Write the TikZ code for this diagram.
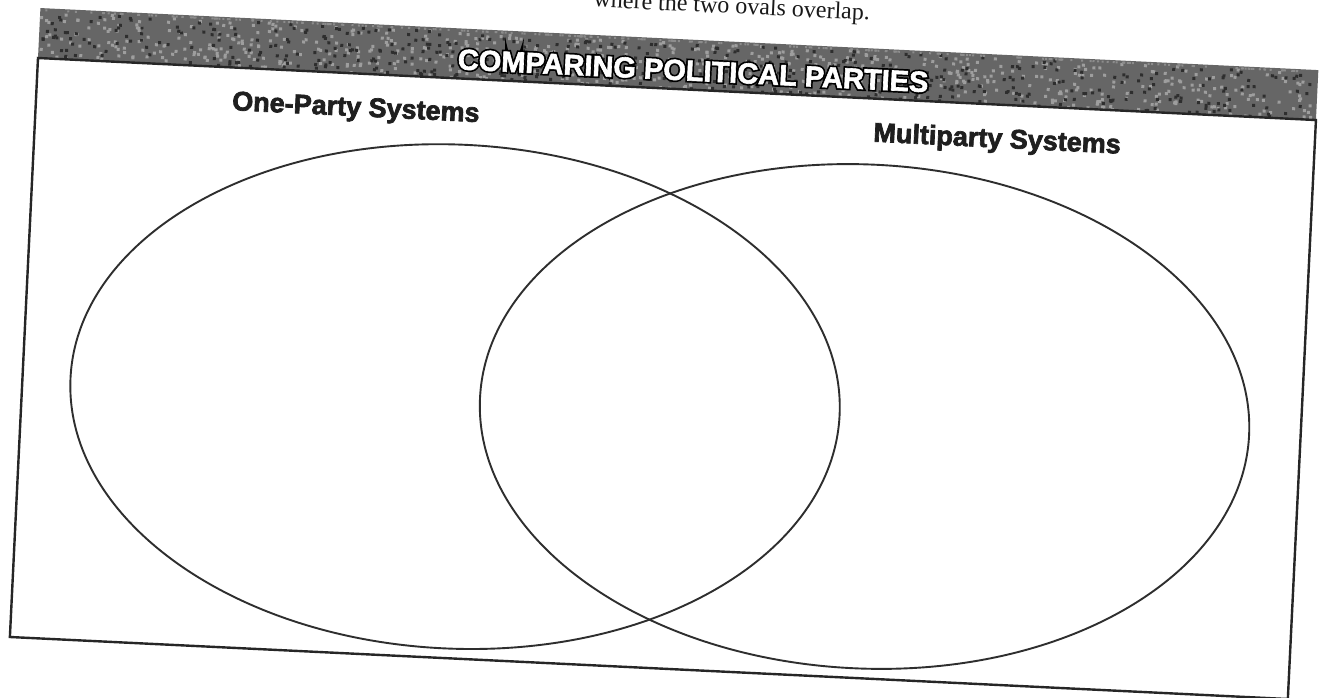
\documentclass[tikz,border=0pt]{standalone}
\usepackage{fontspec}
\setmainfont{Liberation Serif}
\newfontfamily\hsans{Liberation Sans}
% stroked text: #1 stroke width, #2 stroke grey level, #3 text
\newcommand\strokedtext[3]{\special{pdf:literal direct #1 w #2 G 2 Tr}#3\special{pdf:literal direct 0 Tr}}
\begin{document}
\begin{tikzpicture}[x=1pt,y=-1pt]
\tikzset{
  frameline/.style={draw=black!85, line width=2.4pt},
  oval/.style={draw=black!82, line width=1.9pt},
  band/.style={fill=black!60},
  speck/.style={fill=black!38},
  speckdark/.style={fill=black!82},
  titlefont/.style={font=\hsans\bfseries\fontsize{29}{29}\selectfont, inner sep=0, transform shape},
  subhead/.style={font=\hsans\bfseries\fontsize{27}{27}\selectfont, text=black!88, inner sep=0, transform shape},
  toptext/.style={font=\fontsize{24}{24}\selectfont, text=black!90, inner sep=0, transform shape},
}
\clip (0,0) rectangle (1323,698);
\fill[white] (0,0) rectangle (1323,698);
\begin{scope}[shift={(38,58)}, rotate=-2.78]
  % instruction line, cut by the top edge
  \node[toptext, anchor=base east] (instr) at (829,-78) {where the two ovals overlap.};
  % header band
  \fill[band] (0,-50) rectangle (1279.5,0);
  \pgfmathsetseed{7}
  \foreach \k in {1,...,700}{
    \pgfmathsetmacro{\px}{rnd*1275}
    \pgfmathsetmacro{\py}{-48+rnd*46}
    \fill[speck] (\px,\py) rectangle ++(3,3);
  }
  \foreach \k in {1,...,500}{
    \pgfmathsetmacro{\px}{rnd*1275}
    \pgfmathsetmacro{\py}{-48+rnd*46}
    \fill[speckdark] (\px,\py) rectangle ++(3,3);
  }
  \foreach \k in {1,...,260}{
    \pgfmathsetmacro{\px}{rnd*1275}
    \fill[black!45] (\px,-49) rectangle ++(2,2);
  }
  % title: dark outline layer, then white letters
  \node[titlefont, text=black] (titleshade) at (655,-19) {\strokedtext{4}{0}{COMPARING POLITICAL PARTIES}};
  \node[titlefont, text=white] (title) at (655,-19) {\strokedtext{0.6}{1}{COMPARING POLITICAL PARTIES}};
  % frame
  \draw[frameline] (0,0) rectangle (1279.5,579.7);
  % labels
  \node[subhead] (onelabel) at (320,36) {\strokedtext{0.7}{0.12}{One-Party Systems}};
  \node[subhead] (multilabel) at (962,36) {\strokedtext{0.7}{0.12}{Multiparty Systems}};
  % ovals
  \draw[oval] (433,318) ellipse [x radius=385, y radius=252];
  \draw[oval] (843,318) ellipse [x radius=385, y radius=252];
\end{scope}
\end{tikzpicture}
\end{document}
